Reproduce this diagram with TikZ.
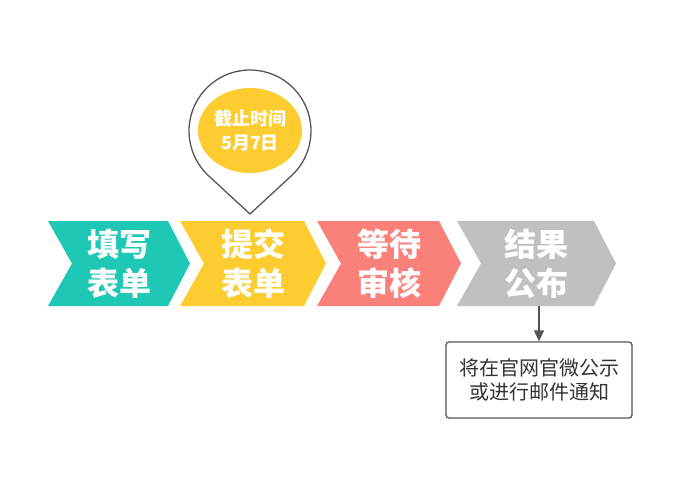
\documentclass[tikz,border=0pt]{standalone}
\usepackage{fontspec}
\newfontfamily\cjk{Noto Sans CJK SC}
\usetikzlibrary{calc,shapes.geometric,arrows.meta}

\definecolor{stageteal}{RGB}{30,200,180}
\definecolor{stageyellow}{RGB}{252,204,48}
\definecolor{stagered}{RGB}{250,128,122}
\definecolor{stagegray}{RGB}{192,192,192}
\definecolor{lineclr}{RGB}{85,85,85}
\definecolor{textclr}{RGB}{51,51,51}

\tikzset{
    stagetext/.style={text=white, align=center, inner sep=0pt,
        font=\cjk\bfseries\fontsize{32}{39}\selectfont},
    deadline/.style={ellipse, fill=stageyellow, text=white, align=center,
        minimum width=104pt, minimum height=85pt, inner sep=0pt,
        font=\cjk\bfseries\fontsize{18}{24}\selectfont},
    noticebox/.style={draw=lineclr, line width=1.3pt, rounded corners=3pt,
        fill=white, text=textclr, align=center,
        minimum width=186pt, minimum height=76pt,
        font=\cjk\fontsize{20}{23.5}\selectfont}
}

\begin{document}
\begin{tikzpicture}[x=1pt,y=-1pt]
            \useasboundingbox (0,0) rectangle (693,481);

            % process chevrons
            \foreach \x/\w/\col/\txt [count=\i] in {
            48/120/stageteal/填写\\表单,
            180/124/stageyellow/提交\\表单,
            317/122/stagered/等待\\审核,
            457/137/stagegray/结果\\公布
            }
            {
                \fill[\col] (\x,221) -- (\x+\w,221) -- (\x+\w+22,263.5)
                    -- (\x+\w,306) -- (\x,306) -- (\x+24,263.5) -- cycle;
                \node[stagetext] (stage\i) at (\x+\w/2+11,263.5) {\txt};
            }

            % deadline pin
            \coordinate (tip) at (250,214);
            \coordinate (pinc) at (250,131);
            \draw[lineclr, line width=1.3pt, fill=white]
            (tip) -- ($(pinc)+(47.3:61)$)
            arc[start angle=47.3, end angle=-227.3, radius=61] -- cycle;
            \node[deadline] (due) at (250,130.5) {截止时间\\5月7日};

            % result notice
            \node[noticebox] (notice) at (539,380) {将在官网官微公示\\或进行邮件通知};
            \coordinate (stage4bot) at (539,306);
            \draw[lineclr, line width=1.3pt, -{Triangle[length=11pt,width=10pt]}]
            (stage4bot) -- (notice);
        \end{tikzpicture}
\end{document}
